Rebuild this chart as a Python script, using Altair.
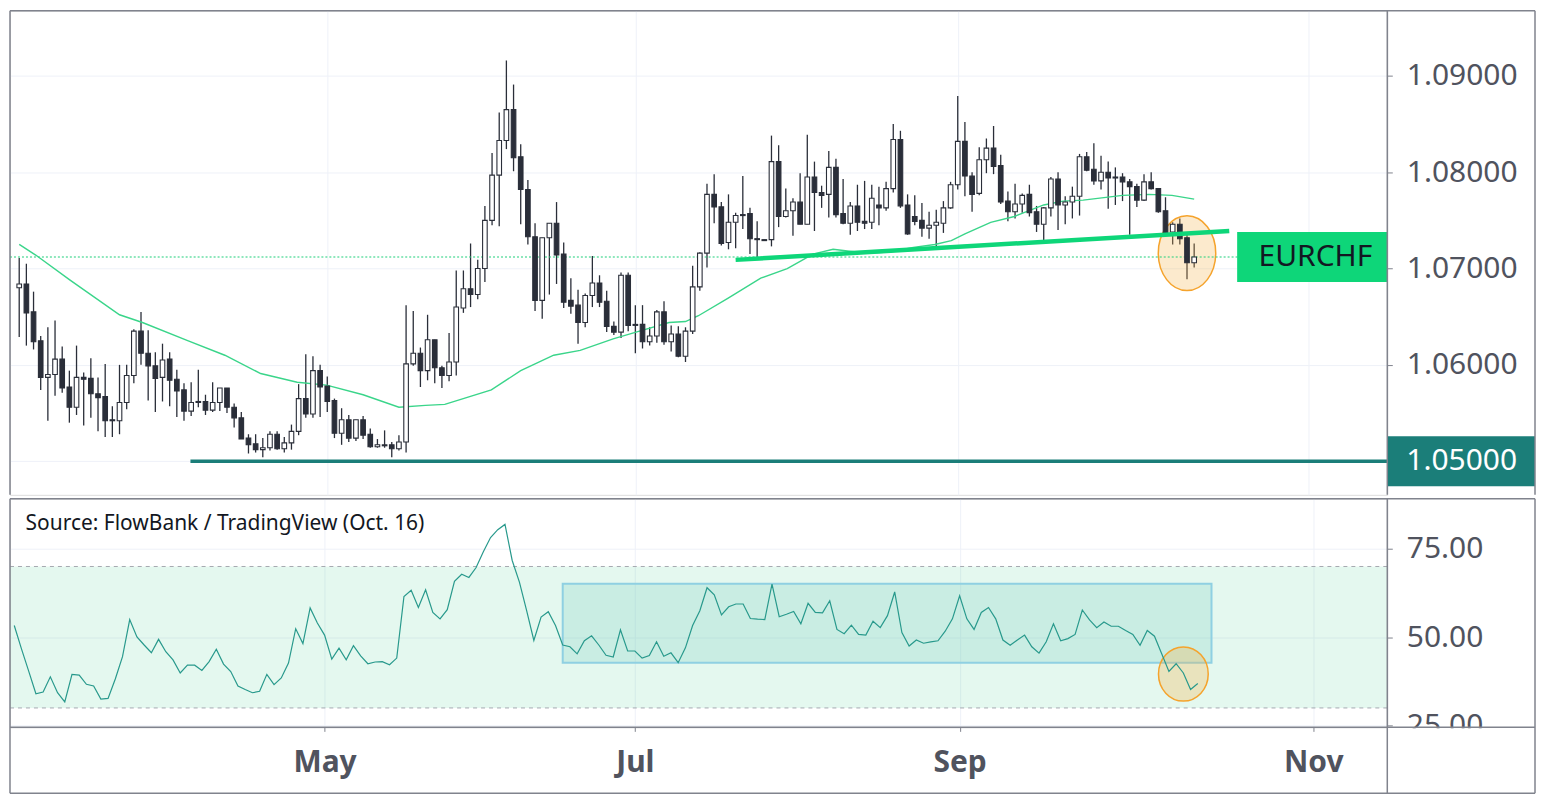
import altair as alt
import pandas as pd

# ---------------- data ----------------
opens = [1.0680, 1.0684, 1.0655, 1.0625, 1.0587, 1.0590, 1.0606, 1.0577, 1.0556, 1.0587,
         1.0586, 1.0570, 1.0567, 1.0543, 1.0542, 1.0561, 1.0589, 1.0635, 1.0612, 1.0599,
         1.0587, 1.0606, 1.0585, 1.0574, 1.0552, 1.0562, 1.0562, 1.0553, 1.0561, 1.0576,
         1.0556, 1.0545, 1.0524, 1.0518, 1.0512, 1.0514, 1.0528, 1.0513, 1.0519, 1.0531,
         1.0565, 1.0549, 1.0594, 1.0578, 1.0563, 1.0529, 1.0543, 1.0524, 1.0543, 1.0528,
         1.0515, 1.0517, 1.0517, 1.0513, 1.0520, 1.0601, 1.0612, 1.0594, 1.0626, 1.0597,
         1.0589, 1.0603, 1.0659, 1.0679, 1.0673, 1.0700, 1.0750, 1.0797, 1.0833, 1.0865,
         1.0816, 1.0782, 1.0733, 1.0667, 1.0732, 1.0747, 1.0715, 1.0667, 1.0662, 1.0644,
         1.0672, 1.0685, 1.0666, 1.0640, 1.0634, 1.0693, 1.0642, 1.0642, 1.0624, 1.0630,
         1.0655, 1.0624, 1.0632, 1.0609, 1.0635, 1.0681, 1.0716, 1.0777, 1.0764, 1.0727,
         1.0748, 1.0756, 1.0757, 1.0731, 1.0730, 1.0730, 1.0811, 1.0754, 1.0760, 1.0769,
         1.0746, 1.0795, 1.0779, 1.0777, 1.0805, 1.0757, 1.0747, 1.0765, 1.0749, 1.0748,
         1.0766, 1.0763, 1.0783, 1.0834, 1.0766, 1.0754, 1.0750, 1.0742, 1.0745, 1.0747,
         1.0763, 1.0787, 1.0832, 1.0796, 1.0778, 1.0813, 1.0825, 1.0807, 1.0770, 1.0759,
         1.0767, 1.0777, 1.0759, 1.0746, 1.0763, 1.0793, 1.0766, 1.0769, 1.0775, 1.0816,
         1.0803, 1.0791, 1.0800, 1.0795, 1.0795, 1.0790, 1.0785, 1.0771, 1.0790, 1.0783,
         1.0760, 1.0738, 1.0746, 1.0732, 1.0706]
highs = [1.0711, 1.0705, 1.0676, 1.0630, 1.0639, 1.0646, 1.0619, 1.0594, 1.0620, 1.0592,
         1.0607, 1.0587, 1.0601, 1.0557, 1.0600, 1.0600, 1.0637, 1.0655, 1.0636, 1.0613,
         1.0622, 1.0613, 1.0595, 1.0581, 1.0582, 1.0595, 1.0569, 1.0582, 1.0576, 1.0576,
         1.0560, 1.0551, 1.0528, 1.0528, 1.0524, 1.0531, 1.0531, 1.0525, 1.0538, 1.0580,
         1.0611, 1.0609, 1.0600, 1.0588, 1.0565, 1.0555, 1.0548, 1.0543, 1.0547, 1.0534,
         1.0523, 1.0532, 1.0520, 1.0527, 1.0662, 1.0656, 1.0618, 1.0652, 1.0626, 1.0599,
         1.0633, 1.0698, 1.0698, 1.0726, 1.0709, 1.0765, 1.0820, 1.0862, 1.0916, 1.0891,
         1.0829, 1.0792, 1.0747, 1.0732, 1.0747, 1.0769, 1.0727, 1.0690, 1.0678, 1.0674,
         1.0713, 1.0693, 1.0677, 1.0645, 1.0696, 1.0696, 1.0662, 1.0662, 1.0639, 1.0657,
         1.0666, 1.0641, 1.0640, 1.0639, 1.0703, 1.0717, 1.0788, 1.0798, 1.0769, 1.0777,
         1.0758, 1.0796, 1.0763, 1.0749, 1.0730, 1.0838, 1.0828, 1.0783, 1.0773, 1.0799,
         1.0839, 1.0811, 1.0786, 1.0822, 1.0814, 1.0793, 1.0769, 1.0787, 1.0791, 1.0787,
         1.0785, 1.0790, 1.0850, 1.0843, 1.0777, 1.0776, 1.0768, 1.0759, 1.0761, 1.0770,
         1.0790, 1.0879, 1.0852, 1.0800, 1.0826, 1.0835, 1.0848, 1.0818, 1.0780, 1.0788,
         1.0778, 1.0787, 1.0765, 1.0764, 1.0795, 1.0800, 1.0775, 1.0785, 1.0819, 1.0821,
         1.0830, 1.0817, 1.0811, 1.0805, 1.0799, 1.0793, 1.0788, 1.0798, 1.0800, 1.0783,
         1.0774, 1.0748, 1.0752, 1.0735, 1.0726]
lows = [1.0629, 1.0620, 1.0616, 1.0574, 1.0542, 1.0568, 1.0571, 1.0540, 1.0548, 1.0537,
        1.0545, 1.0531, 1.0525, 1.0525, 1.0528, 1.0554, 1.0581, 1.0600, 1.0563, 1.0551,
        1.0562, 1.0557, 1.0546, 1.0542, 1.0547, 1.0556, 1.0548, 1.0551, 1.0552, 1.0550,
        1.0535, 1.0523, 1.0508, 1.0509, 1.0504, 1.0511, 1.0512, 1.0509, 1.0512, 1.0527,
        1.0545, 1.0545, 1.0546, 1.0551, 1.0524, 1.0517, 1.0520, 1.0521, 1.0523, 1.0514,
        1.0514, 1.0514, 1.0504, 1.0511, 1.0509, 1.0599, 1.0577, 1.0584, 1.0581, 1.0576,
        1.0583, 1.0589, 1.0654, 1.0660, 1.0668, 1.0686, 1.0745, 1.0744, 1.0824, 1.0801,
        1.0746, 1.0725, 1.0656, 1.0648, 1.0673, 1.0684, 1.0659, 1.0653, 1.0622, 1.0639,
        1.0660, 1.0660, 1.0634, 1.0631, 1.0628, 1.0635, 1.0612, 1.0617, 1.0620, 1.0623,
        1.0621, 1.0614, 1.0608, 1.0603, 1.0632, 1.0677, 1.0701, 1.0747, 1.0724, 1.0720,
        1.0721, 1.0741, 1.0715, 1.0712, 1.0729, 1.0723, 1.0743, 1.0753, 1.0734, 1.0746,
        1.0746, 1.0739, 1.0763, 1.0753, 1.0753, 1.0746, 1.0735, 1.0739, 1.0741, 1.0741,
        1.0745, 1.0760, 1.0779, 1.0763, 1.0735, 1.0745, 1.0733, 1.0731, 1.0721, 1.0737,
        1.0762, 1.0782, 1.0775, 1.0759, 1.0776, 1.0799, 1.0798, 1.0767, 1.0749, 1.0752,
        1.0758, 1.0754, 1.0738, 1.0727, 1.0754, 1.0740, 1.0746, 1.0752, 1.0755, 1.0801,
        1.0787, 1.0782, 1.0762, 1.0766, 1.0770, 1.0735, 1.0764, 1.0770, 1.0782, 1.0758,
        1.0734, 1.0725, 1.0725, 1.0689, 1.0701]
closes = [1.0684, 1.0654, 1.0624, 1.0587, 1.0590, 1.0606, 1.0576, 1.0556, 1.0587, 1.0585,
          1.0570, 1.0566, 1.0542, 1.0542, 1.0561, 1.0589, 1.0635, 1.0612, 1.0599, 1.0586,
          1.0605, 1.0584, 1.0573, 1.0552, 1.0561, 1.0561, 1.0553, 1.0561, 1.0576, 1.0556,
          1.0545, 1.0523, 1.0517, 1.0512, 1.0514, 1.0528, 1.0513, 1.0519, 1.0531, 1.0565,
          1.0549, 1.0594, 1.0577, 1.0562, 1.0529, 1.0543, 1.0524, 1.0543, 1.0527, 1.0515,
          1.0517, 1.0516, 1.0513, 1.0520, 1.0601, 1.0612, 1.0594, 1.0626, 1.0597, 1.0589,
          1.0603, 1.0660, 1.0679, 1.0673, 1.0700, 1.0750, 1.0797, 1.0833, 1.0865, 1.0815,
          1.0782, 1.0733, 1.0667, 1.0732, 1.0747, 1.0714, 1.0665, 1.0661, 1.0644, 1.0672,
          1.0685, 1.0665, 1.0640, 1.0634, 1.0693, 1.0641, 1.0641, 1.0624, 1.0630, 1.0655,
          1.0624, 1.0632, 1.0609, 1.0635, 1.0681, 1.0716, 1.0777, 1.0764, 1.0726, 1.0748,
          1.0755, 1.0755, 1.0731, 1.0730, 1.0729, 1.0811, 1.0754, 1.0760, 1.0769, 1.0746,
          1.0795, 1.0779, 1.0776, 1.0805, 1.0756, 1.0747, 1.0765, 1.0748, 1.0747, 1.0773,
          1.0763, 1.0783, 1.0834, 1.0765, 1.0736, 1.0749, 1.0742, 1.0745, 1.0748, 1.0763,
          1.0787, 1.0832, 1.0796, 1.0777, 1.0813, 1.0825, 1.0806, 1.0769, 1.0759, 1.0767,
          1.0776, 1.0758, 1.0746, 1.0763, 1.0793, 1.0766, 1.0769, 1.0775, 1.0816, 1.0802,
          1.0791, 1.0800, 1.0794, 1.0794, 1.0790, 1.0785, 1.0771, 1.0790, 1.0783, 1.0759,
          1.0737, 1.0746, 1.0731, 1.0706, 1.0712]
rsi = [53.3, 46.7, 40.4, 34.0, 34.5, 38.8, 34.3, 31.7, 39.5, 39.3,
       36.7, 36.2, 32.5, 32.7, 38.2, 44.5, 55.0, 50.1, 47.8, 45.6,
       49.4, 45.9, 43.6, 39.9, 42.1, 42.1, 40.6, 43.1, 46.6, 42.4,
       40.3, 36.2, 35.2, 34.3, 34.7, 39.5, 36.6, 38.5, 42.7, 52.4,
       48.2, 58.3, 54.0, 50.6, 43.8, 46.9, 43.6, 47.6, 44.7, 42.5,
       43.0, 43.1, 42.2, 44.1, 61.5, 63.3, 58.4, 63.4, 57.0, 55.2,
       57.8, 65.8, 67.8, 66.9, 69.7, 74.2, 78.2, 80.4, 81.9, 71.7,
       65.6, 57.5, 49.1, 55.7, 57.2, 53.3, 47.8, 47.3, 45.3, 49.0,
       50.4, 47.8, 44.9, 44.4, 52.1, 46.1, 46.1, 44.1, 44.8, 48.7,
       44.6, 45.6, 42.8, 47.0, 53.3, 57.5, 64.0, 62.0, 56.3, 58.6,
       59.4, 59.4, 55.3, 55.1, 55.0, 65.0, 55.8, 56.5, 57.3, 53.8,
       59.6, 57.0, 56.9, 60.3, 52.2, 51.0, 53.4, 50.8, 50.6, 54.5,
       52.7, 56.1, 62.8, 51.3, 47.5, 49.2, 48.3, 48.7, 49.0, 51.7,
       55.2, 61.7, 55.2, 52.2, 57.0, 58.4, 55.2, 49.2, 47.7, 49.2,
       50.6, 47.3, 45.5, 48.7, 53.8, 49.0, 49.6, 50.8, 57.7, 54.9,
       52.7, 54.3, 53.1, 53.1, 51.9, 50.8, 47.7, 51.9, 50.3, 45.3,
       40.3, 42.5, 39.9, 35.2, 36.9]
sma_idx = [0, 2.3, 7.1, 14.0, 17.2, 23.6, 28.7, 33.7, 38.8, 42.9, 48.0, 53.0, 56.7, 59.4,
           65.9, 70.0, 74.6, 78.3, 82.9, 86.1, 90.7, 93.0, 94.8, 98.9, 103.5, 107.2, 110.8,
           113.6, 115.9, 118.6, 121.4, 124.8, 127.8, 130.1, 132.0, 135.6, 138.9, 143.0,
           145.7, 148.5, 154.0, 157.7, 160.9, 164]
sma_val = [1.0725, 1.0714, 1.0688, 1.0652, 1.0644, 1.0625, 1.0610, 1.0591, 1.0582, 1.0579,
           1.0569, 1.0556, 1.0558, 1.0559, 1.0574, 1.0594, 1.0610, 1.0615, 1.0627, 1.0634,
           1.0644, 1.0645, 1.0651, 1.0669, 1.0690, 1.0700, 1.0715, 1.0720, 1.0718, 1.0716,
           1.0717, 1.0722, 1.0725, 1.0729, 1.0736, 1.0748, 1.0754, 1.0766, 1.0770, 1.0771,
           1.0776, 1.0777, 1.0776, 1.0772]
month_ticks = [43, 86, 131, 180]
month_labels = ["May", "Jul", "Sep", "Nov"]
price_ticks = [1.05, 1.06, 1.07, 1.08, 1.09]
rsi_ticks = [25, 50, 75]
rsi_band = [30, 70]
support_level = 1.05
support_start = 23.9
trend_idx = [100, 168.9]
trend_val = [1.0709, 1.0739]
rsi_box_x = [76.0, 165.9]
rsi_box_y = [42.8, 65.1]
price_mark = [163.0, 1.0716]
rsi_mark = [162.0, 39.6]
label_start = 170.0
symbol = "EURCHF"
source_text = "Source: FlowBank / TradingView (Oct. 16)"

# ---------------- layout / style ----------------
W, H1, H2, AX, TA = 1380, 485, 229, 148, 66
DARK = "#2a2e39"
FRAME = "#80838d"
GRID = "#eef1f8"
LABEL = "#50535e"
GREEN = "#0ed679"
TEAL = "#1b7e79"
ORANGE = "#f5a32c"
FONT = "Noto Sans"

df = pd.DataFrame({"i": list(range(len(closes))), "open": opens, "high": highs,
                   "low": lows, "close": closes, "rsi": rsi})
sma_df = pd.DataFrame({"i": sma_idx, "v": sma_val})
trend_df = pd.DataFrame({"i": trend_idx, "v": trend_val})
one = pd.DataFrame({"k": [0]})
last_close = closes[-1]

xs = alt.Scale(domain=[-0.59, 190.26], nice=False, zero=False)
yps = alt.Scale(domain=[1.04651, 1.09676], nice=False, zero=False)
yrs = alt.Scale(domain=[24.51, 89.14], nice=False, zero=False)

x_axis_top = alt.Axis(values=month_ticks, labels=False, ticks=False, domain=False,
                      grid=True, gridColor=GRID, gridWidth=1, title=None)
yp_axis = alt.Axis(orient="right", values=price_ticks, grid=True, gridColor=GRID,
                   domain=False, tickColor=FRAME, tickSize=5, labelPadding=14,
                   labelFontSize=30, labelColor=LABEL, labelFont=FONT, title=None,
                   labelExpr="abs(datum.value - %s) < 1e-9 ? '' : format(datum.value, '.5f')" % support_level)
month_expr = " : ".join("datum.value == %s ? '%s'" % (t, l) for t, l in zip(month_ticks, month_labels)) + " : ''"
x_axis_bottom = alt.Axis(values=month_ticks, labelExpr=month_expr, domain=False, grid=True,
                         gridColor=GRID, tickColor=FRAME, tickSize=4, labelPadding=16,
                         labelFontSize=30, labelFontWeight="bold", labelColor=LABEL,
                         labelFont=FONT, labelFlush=False, title=None)
yr_axis = alt.Axis(orient="right", values=rsi_ticks, format=".2f", grid=True, gridColor=GRID,
                   domain=False, tickColor=FRAME, tickSize=5, labelPadding=14,
                   labelFontSize=30, labelColor=LABEL, labelFont=FONT, title=None)

# encoding helpers that always carry the same axis, so layers merge cleanly
def PX(f): return alt.X(f, scale=xs, axis=x_axis_top)
def PY(f): return alt.Y(f, scale=yps, axis=yp_axis)
def PXD(v): return alt.XDatum(v, scale=xs, axis=x_axis_top)
def PYD(v): return alt.YDatum(v, scale=yps, axis=yp_axis)
def RX(f): return alt.X(f, scale=xs, axis=x_axis_bottom)
def RY(f): return alt.Y(f, scale=yrs, axis=yr_axis)
def RXD(v): return alt.XDatum(v, scale=xs, axis=x_axis_bottom)
def RYD(v): return alt.YDatum(v, scale=yrs, axis=yr_axis)

def ellipse_path(a):
    k = 0.5523
    return ("M0,-1 C{ka},-1 {a},-{k} {a},0 C{a},{k} {ka},1 0,1 "
            "C-{ka},1 -{a},{k} -{a},0 C-{a},-{k} -{ka},-1 0,-1 Z").format(
        a=round(a, 3), ka=round(a * k, 3), k=k)

def frame(x, x2, y, y2=None):
    enc = dict(x=alt.value(x), y=alt.value(y))
    if x2 is not None:
        enc["x2"] = alt.value(x2)
    if y2 is not None:
        enc["y2"] = alt.value(y2)
    return alt.Chart(one).mark_rule(color=FRAME, strokeWidth=1.5).encode(**enc)

# ---------------- price pane ----------------
wicks = alt.Chart(df).mark_rule(color=DARK, strokeWidth=1.3).encode(
    x=PX("i:Q"), y=PY("low:Q"), y2="high:Q")

p_ellipse = alt.Chart(pd.DataFrame({"i": [price_mark[0]], "v": [price_mark[1]]})).mark_point(
    shape=ellipse_path(0.768), size=5620, filled=True, fill="#f6b24a", fillOpacity=0.28,
    stroke=ORANGE, strokeWidth=1.5, opacity=1).encode(x=PX("i:Q"), y=PY("v:Q"))

price_line = alt.Chart(one).mark_rule(color="#1fcf7a", strokeWidth=1.2, strokeDash=[2, 2]).encode(
    x=alt.value(0), x2=alt.value(W), y=PYD(last_close))

sma = alt.Chart(sma_df).mark_line(color="#3ad58a", strokeWidth=1.4).encode(
    x=PX("i:Q"), y=PY("v:Q"))

bodies = alt.Chart(df).mark_bar(width=4.6, stroke=DARK, strokeWidth=1.1).encode(
    x=PX("i:Q"), y=PY("open:Q"), y2="close:Q",
    fill=alt.condition("datum.close >= datum.open", alt.value("#ffffff"), alt.value(DARK)))

trend = alt.Chart(trend_df).mark_line(color=GREEN, strokeWidth=4.5, strokeCap="butt").encode(
    x=PX("i:Q"), y=PY("v:Q"))

support = alt.Chart(one).mark_rule(color=TEAL, strokeWidth=3.5).encode(
    x=PXD(support_start), x2=alt.value(W), y=PYD(support_level))

sym_box = alt.Chart(one).mark_rect(color=GREEN, yOffset=-25, y2Offset=25).encode(
    x=PXD(label_start), x2=alt.value(W), y=PYD(last_close), y2=alt.Y2Datum(last_close))
sym_text = alt.Chart(one).mark_text(text=symbol, fontSize=30, font=FONT, color="#131722",
                                    align="center", baseline="middle").encode(
    x=alt.value(W - 72), y=PYD(last_close))

lvl_box = alt.Chart(one).mark_rect(color=TEAL, yOffset=-25, y2Offset=25).encode(
    x=alt.value(W), x2=alt.value(W + AX), y=PYD(support_level), y2=alt.Y2Datum(support_level))
lvl_text = alt.Chart(one).mark_text(text="%.5f" % support_level, fontSize=30, font=FONT,
                                    color="#ffffff", align="left", baseline="middle").encode(
    x=alt.value(W + 19), y=PYD(support_level))

price = alt.layer(
    wicks, p_ellipse, price_line, sma, bodies, trend, support,
    sym_box, sym_text, lvl_box, lvl_text,
    frame(0, W + AX, 0), frame(0, None, 0, H1), frame(W, None, 0, H1),
    frame(W + AX, None, 0, H1),
).properties(width=W, height=H1)

# ---------------- RSI pane ----------------
band = alt.Chart(one).mark_rect(color="#21c97f", opacity=0.12).encode(
    x=alt.value(0), x2=alt.value(W), y=RYD(rsi_band[1]), y2=alt.Y2Datum(rsi_band[0]))

band_lines = alt.Chart(pd.DataFrame({"v": rsi_band})).mark_rule(
    color="#a6a9b1", strokeWidth=1, strokeDash=[4, 4]).encode(
    x=alt.value(0), x2=alt.value(W), y=RY("v:Q"))

box = alt.Chart(one).mark_rect(fill="#85d0c7", fillOpacity=0.28, stroke="#8fd0e2",
                               strokeWidth=2, strokeOpacity=1).encode(
    x=RXD(rsi_box_x[0]), x2=alt.X2Datum(rsi_box_x[1]),
    y=RYD(rsi_box_y[1]), y2=alt.Y2Datum(rsi_box_y[0]))

r_ellipse = alt.Chart(pd.DataFrame({"i": [rsi_mark[0]], "v": [rsi_mark[1]]})).mark_point(
    shape=ellipse_path(0.919), size=2940, filled=True, fill="#f6b24a", fillOpacity=0.3,
    stroke=ORANGE, strokeWidth=1.5, opacity=1).encode(x=RX("i:Q"), y=RY("v:Q"))

rsi_line = alt.Chart(df).mark_line(color="#28998c", strokeWidth=1.2).encode(
    x=RX("i:Q"), y=RY("rsi:Q"))

source = alt.Chart(one).mark_text(text=source_text, fontSize=21, font=FONT, color="#131722",
                                  align="left", baseline="alphabetic").encode(
    x=alt.value(15.6), y=alt.value(31.5))

cover = alt.Chart(one).mark_rect(color="#ffffff").encode(
    x=alt.value(W + 1), x2=alt.value(W + AX - 1), y=alt.value(H2 + 1), y2=alt.value(H2 + 30))

rsi_chart = alt.layer(
    band, band_lines, box, r_ellipse, rsi_line, source, cover,
    frame(0, W + AX, 0), frame(0, W + AX, H2), frame(0, W + AX, H2 + TA),
    frame(0, None, 0, H2 + TA), frame(W, None, 0, H2 + TA), frame(W + AX, None, 0, H2 + TA),
).properties(width=W, height=H2)

chart = alt.vconcat(price, rsi_chart, spacing=0).properties(
    padding={"left": 0, "top": 0, "right": 0, "bottom": 0}
).configure_view(stroke=None).configure(font=FONT)

chart.save("out.html", embed_options={"renderer": "svg", "actions": False})
